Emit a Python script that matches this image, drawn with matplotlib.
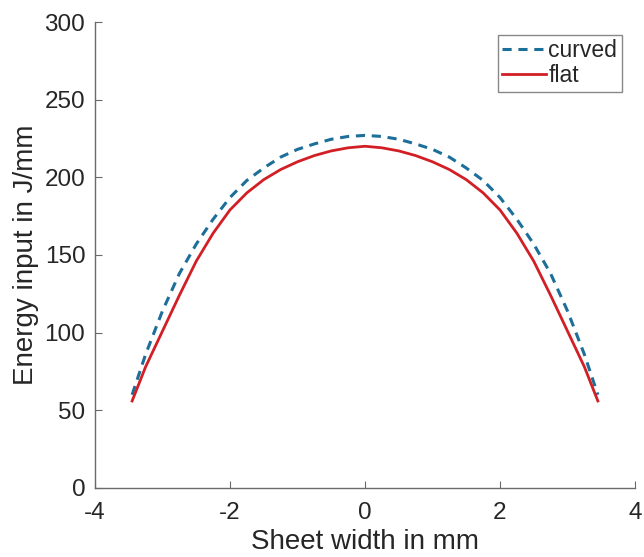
import numpy as np
import matplotlib.pyplot as plt

plt.rcParams["font.family"] = ["Liberation Sans", "DejaVu Sans"]

# values (left half, mirrored for the right)
x_half = [-3.45, -3.25, -3.0, -2.75, -2.5, -2.25, -2.0, -1.75,
          -1.5, -1.25, -1.0, -0.75, -0.5, -0.25, 0.0]
curved_half = [60, 86, 114, 138, 157, 173, 187, 198,
               206, 213, 218, 221.5, 224.5, 226.3, 227]
flat_half = [56, 78, 101, 124, 146, 164, 179, 190,
             198.5, 205, 210, 214, 217, 219, 220]

x_pos = x_half + [-v for v in x_half[-2::-1]]
curved = curved_half + curved_half[-2::-1]
flat = flat_half + flat_half[-2::-1]

x_ticks = [-4, -2, 0, 2, 4]
y_ticks = [0, 50, 100, 150, 200, 250, 300]

fig = plt.figure(figsize=(6.44, 5.57), dpi=100)
ax = fig.add_axes([0.1475, 0.124, 0.8385, 0.8365])

ax.plot(x_pos, curved, color="#1d6e99", lw=2.2, ls=(0, (3.0, 2.2)), label="curved")
ax.plot(x_pos, flat, color="#d21f26", lw=2.0, label="flat")

ax.set_xlim(-4, 4)
ax.set_ylim(0, 300)
ax.set_xticks(x_ticks)
ax.set_yticks(y_ticks)
ax.set_xticklabels([str(v) for v in x_ticks])

for s in ["top", "right"]:
    ax.spines[s].set_visible(False)
for s in ["left", "bottom"]:
    ax.spines[s].set_color("#6a6a6a")
    ax.spines[s].set_linewidth(1.0)

ax.tick_params(direction="in", length=5, width=0.8, color="#6a6a6a",
               labelsize=17.5, labelcolor="#262626")
ax.tick_params(axis="x", pad=10)
ax.tick_params(axis="y", pad=7)

ax.set_xlabel("Sheet width in mm", fontsize=20, color="#262626", labelpad=4)
ax.set_ylabel("Energy input in J/mm", fontsize=20, color="#262626", labelpad=4)

leg = ax.legend(loc="upper right", bbox_to_anchor=(0.984, 0.983), fontsize=16.5,
                frameon=True, fancybox=False, handlelength=1.9,
                handletextpad=0.1, borderpad=0.2, labelspacing=0.08,
                borderaxespad=0.2)
leg.get_frame().set_edgecolor("#6a6a6a")
leg.get_frame().set_linewidth(1.0)
for t in leg.get_texts():
    t.set_color("#262626")

fig.savefig("out.png", dpi=100)
